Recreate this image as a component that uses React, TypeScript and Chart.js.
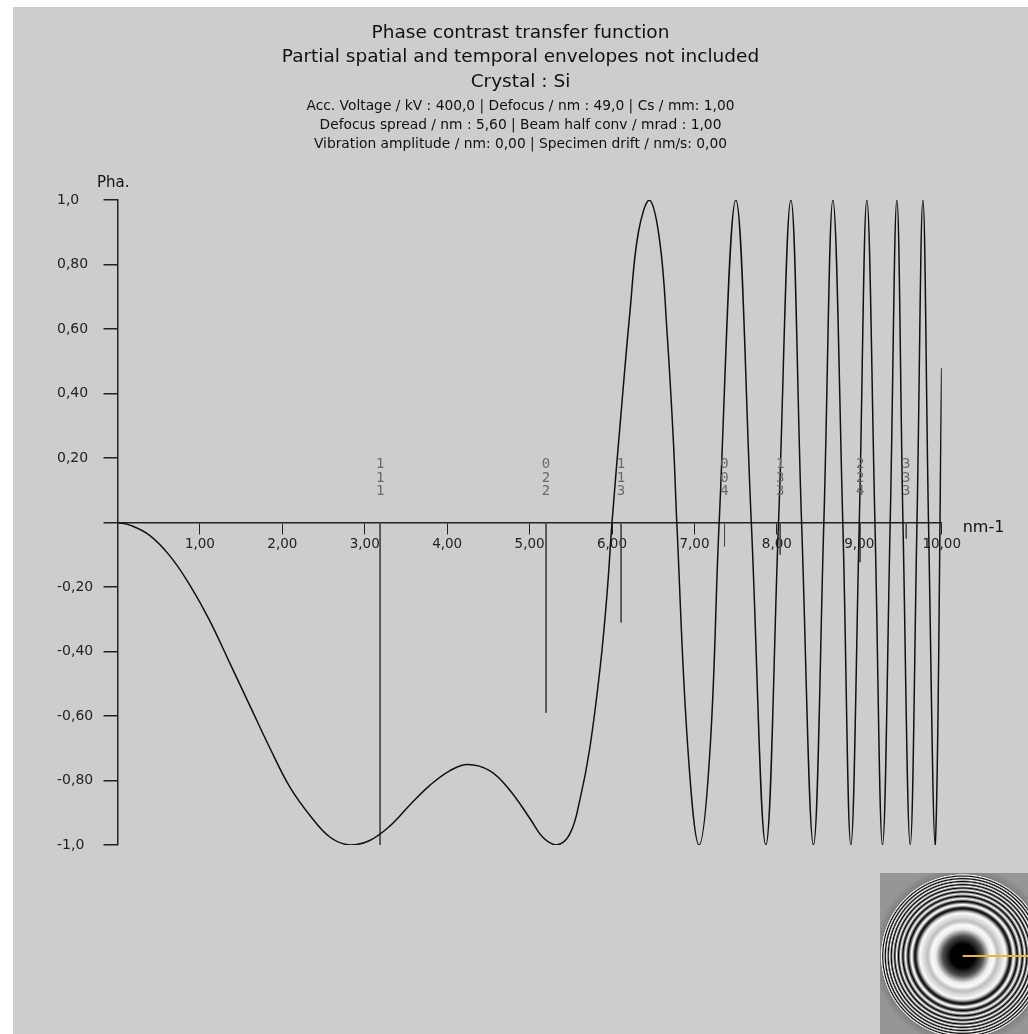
import React, { useEffect, useRef } from 'react';
import { Chart, registerables } from 'chart.js';

Chart.register(...registerables);

// ---- Text ----
const TITLE_LINES = [
  'Phase contrast transfer function',
  'Partial spatial and temporal envelopes not included',
  'Crystal : Si',
];
const SUBTITLE_LINES = [
  'Acc. Voltage / kV : 400,0 | Defocus / nm : 49,0 | Cs / mm: 1,00',
  'Defocus spread / nm : 5,60 | Beam half conv / mrad : 1,00',
  'Vibration amplitude / nm: 0,00 | Specimen drift / nm/s: 0,00',
];
const Y_LABEL = 'Pha.';
const X_LABEL = 'nm-1';

// ---- Axis ticks ----
const X_TICKS = [0, 1, 2, 3, 4, 5, 6, 7, 8, 9, 10];
const Y_TICKS = [-1, -0.8, -0.6, -0.4, -0.2, 0, 0.2, 0.4, 0.6, 0.8, 1];

// ---- PCTF curve (spatial frequency nm-1, phase) ----
const FREQ = [
  0, 0.15, 0.39, 0.64, 0.88, 1.12, 1.37, 1.61, 1.85, 2.09, 2.34, 2.58, 2.82, 3.06, 3.31,
  3.55, 3.79, 4.03, 4.25, 4.52, 4.76, 5.01, 5.16, 5.33, 5.49, 5.61, 5.73, 5.86, 5.94,
  6.0, 6.11, 6.22, 6.32, 6.454, 6.58, 6.67, 6.745, 6.786, 6.92, 7.057, 7.19, 7.3,
  7.502, 7.69, 7.866, 8.02, 8.17, 8.3, 8.444, 8.57, 8.68, 8.8, 8.898, 9.0, 9.092,
  9.19, 9.282, 9.375, 9.456, 9.53, 9.618, 9.7, 9.772, 9.84, 9.921, 10.0,
];
const PHASE = [
  0, -0.008, -0.04, -0.105, -0.195, -0.305, -0.44, -0.57, -0.7, -0.82, -0.91, -0.976, -1.0, -0.986, -0.94,
  -0.875, -0.815, -0.77, -0.75, -0.77, -0.83, -0.92, -0.976, -1.0, -0.965, -0.86, -0.7, -0.44, -0.22,
  0, 0.34, 0.66, 0.9, 1.0, 0.87, 0.58, 0.25, 0, -0.7, -1.0, -0.7, 0,
  1.0, 0, -1.0, 0, 1.0, 0, -1.0, 0, 1.0, 0, -1.0, 0, 1.0,
  0, -1.0, 0, 1.0, 0, -1.0, 0, 1.0, 0, -1.0, 0.48,
];

// ---- Si reflections ----
const REF_HKL = ['111', '022', '113', '004', '133', '224', '333'];
const REF_FREQ = [3.186, 5.2, 6.11, 7.365, 8.04, 9.01, 9.57];
const REF_LEN = [-1.0, -0.59, -0.31, -0.074, -0.1, -0.123, -0.05];

// ---- Inset ring pattern (radius px, grey level) ----
const INSET_RINGS: [number, number][] = [
  [0, 0], [12, 0], [20, 80], [27, 235], [31, 250], [35, 190], [39, 220], [43, 250], [45, 160],
  [47, 20], [48.5, 40], [50, 200], [51.5, 255], [53, 120], [54.5, 0], [56, 140], [57.3, 255],
  [58.6, 120], [59.8, 0], [61, 140], [62.1, 255], [63.2, 120], [64.2, 0], [65.2, 140], [66.2, 255],
  [67.1, 120], [68, 0], [68.9, 140], [69.8, 255], [70.6, 120], [71.4, 0], [72.2, 140], [73, 255],
  [73.8, 120], [74.5, 0], [75.2, 140], [76, 255], [76.7, 120], [77.4, 0], [78.1, 140], [78.8, 255],
  [79.4, 120], [80, 0], [80.6, 140], [81.3, 255], [82, 128], [90, 150], [200, 150],
];

const FONT = '"DejaVu Sans", sans-serif';

function fmtY(v: number): string {
  if (Math.abs(v) < 1e-9) return '';
  if (Math.abs(Math.abs(v) - 1) < 1e-9) return (v < 0 ? '-' : '') + '1,0';
  return v.toFixed(2).replace('.', ',');
}
function fmtX(v: number): string {
  if (Math.abs(v) < 1e-9) return '';
  return v.toFixed(2).replace('.', ',');
}

const annotPlugin = {
  id: 'annot',
  afterDatasetsDraw(chart: any) {
    const { ctx, chartArea, scales, width } = chart;
    const xs = scales.x;
    const ys = scales.y;
    const y0 = ys.getPixelForValue(0);
    ctx.save();
    // titles (centred on the canvas)
    ctx.fillStyle = '#111';
    ctx.textAlign = 'center';
    ctx.textBaseline = 'middle';
    ctx.font = '18.5px ' + FONT;
    const tY = [26.3, 50.3, 74.7];
    TITLE_LINES.forEach((t, i) => ctx.fillText(t, width / 2, tY[i]));
    ctx.font = '13.8px ' + FONT;
    const sY = [99, 118.3, 137.5];
    SUBTITLE_LINES.forEach((t, i) => ctx.fillText(t, width / 2, sY[i]));
    // hkl labels
    ctx.font = '14px "DejaVu Sans Mono", monospace';
    ctx.fillStyle = '#6a6a6a';
    REF_HKL.forEach((hkl, i) => {
      const px = xs.getPixelForValue(REF_FREQ[i]);
      const offs = [-58, -44.5, -31];
      hkl.split('').forEach((d, j) => ctx.fillText(d, px, y0 + offs[j]));
    });
    // axis labels
    ctx.fillStyle = '#111';
    ctx.textAlign = 'left';
    ctx.font = '15px ' + FONT;
    ctx.fillText(Y_LABEL, chartArea.left - 20.5, chartArea.top - 17);
    ctx.font = '16px ' + FONT;
    ctx.fillText(X_LABEL, chartArea.right + 21, y0 + 5);
    ctx.restore();
  },
  afterDraw(chart: any) {
    const { ctx, width, height } = chart;
    const left = 867;
    const top = 866;
    const cx = 949.7;
    const cy = 949;
    ctx.save();
    ctx.beginPath();
    ctx.rect(left, top, width - left, height - top);
    ctx.clip();
    const rMax = 200;
    const g = ctx.createRadialGradient(cx, cy, 0, cx, cy, rMax);
    INSET_RINGS.forEach(([r, lv]) => {
      g.addColorStop(Math.min(1, r / rMax), `rgb(${lv},${lv},${lv})`);
    });
    ctx.fillStyle = g;
    ctx.fillRect(left, top, width - left, height - top);
    ctx.strokeStyle = '#e8b830';
    ctx.lineWidth = 2;
    ctx.beginPath();
    ctx.moveTo(cx, cy);
    ctx.lineTo(width, cy);
    ctx.stroke();
    ctx.restore();
  },
};

export default function App() {
  const ref = useRef<HTMLCanvasElement>(null);
  useEffect(() => {
    const canvas = ref.current;
    if (!canvas) return;
    const curve = FREQ.map((k, i) => ({ x: k, y: PHASE[i] }));
    const refSets = REF_FREQ.map((k, i) => ({
      data: [
        { x: k, y: 0 },
        { x: k, y: REF_LEN[i] },
      ],
      borderColor: '#4a4a4a',
      borderWidth: 1,
      pointRadius: 0,
      fill: false,
      tension: 0,
    }));
    const chart = new Chart(canvas, {
      type: 'line',
      data: {
        datasets: [
          {
            data: curve,
            borderColor: '#111',
            borderWidth: 1.5,
            pointRadius: 0,
            fill: false,
            tension: 0.4,
          } as any,
          ...(refSets as any[]),
        ],
      },
      options: {
        responsive: false,
        animation: false,
        events: [],
        layout: { padding: { left: 44, right: 86.3, top: 193, bottom: 189 } },
        plugins: {
          legend: { display: false },
          tooltip: { enabled: false },
          title: { display: false },
        },
        scales: {
          x: {
            type: 'linear',
            position: { y: 0 } as any,
            min: 0,
            max: 10,
            afterBuildTicks: (s: any) => {
              s.ticks = X_TICKS.map((v) => ({ value: v }));
            },
            ticks: {
              autoSkip: false,
              maxRotation: 0,
              color: '#222',
              padding: 3,
              font: { family: FONT, size: 13.5 },
              callback: (v: any) => fmtX(Number(v)),
            },
            grid: { drawOnChartArea: false, drawTicks: true, tickLength: 11, color: '#222', lineWidth: 1 },
            border: { display: true, color: '#222', width: 1.5 },
          },
          y: {
            type: 'linear',
            position: 'left',
            min: -1,
            max: 1,
            afterBuildTicks: (s: any) => {
              s.ticks = Y_TICKS.map((v) => ({ value: v }));
            },
            afterFit: (s: any) => {
              s.width = 60.5;
            },
            ticks: {
              autoSkip: false,
              crossAlign: 'far',
              color: '#222',
              font: { family: FONT, size: 14 },
              callback: (v: any) => fmtY(Number(v)),
            },
            grid: { drawOnChartArea: false, drawTicks: true, tickLength: 14, color: '#222', lineWidth: 1.5 },
            border: { display: true, color: '#222', width: 1.5 },
          },
        },
      } as any,
      plugins: [annotPlugin],
    });
    return () => chart.destroy();
  }, []);
  return (
    <canvas
      ref={ref}
      width={1015}
      height={1027}
      style={{ position: 'fixed', left: 13, top: 7, background: '#cdcdcd', display: 'block' }}
    />
  );
}
